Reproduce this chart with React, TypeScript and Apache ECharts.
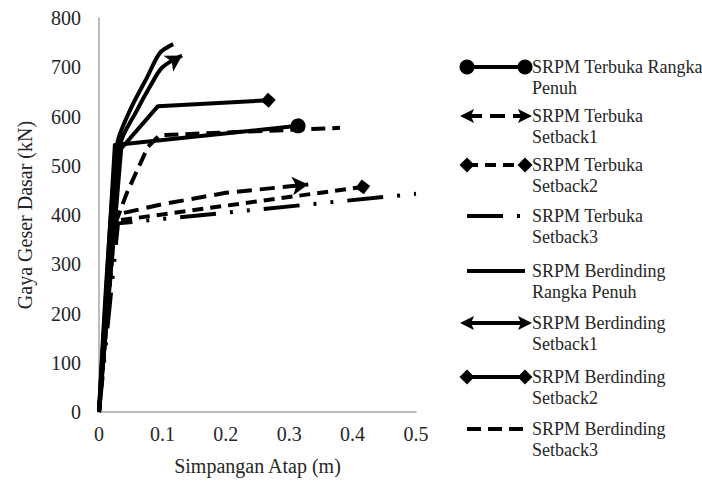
import React, { useEffect, useRef } from "react";
import * as echarts from "echarts";

const seriesNames = [
  "SRPM Terbuka Rangka Penuh",
  "SRPM Terbuka Setback1",
  "SRPM Terbuka Setback2",
  "SRPM Terbuka Setback3",
  "SRPM Berdinding Rangka Penuh",
  "SRPM Berdinding Setback1",
  "SRPM Berdinding Setback2",
  "SRPM Berdinding Setback3",
];

const legendLabels = [
  ["SRPM Terbuka Rangka", "Penuh"],
  ["SRPM Terbuka", "Setback1"],
  ["SRPM Terbuka", "Setback2"],
  ["SRPM Terbuka", "Setback3"],
  ["SRPM Berdinding", "Rangka Penuh"],
  ["SRPM Berdinding", "Setback1"],
  ["SRPM Berdinding", "Setback2"],
  ["SRPM Berdinding", "Setback3"],
];

const xTicks = [0, 0.1, 0.2, 0.3, 0.4, 0.5];
const yTicks = [0, 100, 200, 300, 400, 500, 600, 700, 800];

// [Simpangan Atap (m), Gaya Geser Dasar (kN)]
const terbukaRangkaPenuh = [[0, 0], [0.025, 542], [0.314, 581]];
const terbukaSetback1 = [[0, 0], [0.025, 400], [0.1, 422], [0.2, 445], [0.33, 462]];
const terbukaSetback2 = [[0, 0], [0.025, 388], [0.416, 457]];
const terbukaSetback3 = [[0, 0], [0.03, 383], [0.5, 443]];
const berdindingRangkaPenuh = [[0, 0], [0.028, 540], [0.049, 613], [0.076, 680], [0.096, 729], [0.117, 747]];
const berdindingSetback1 = [[0, 0], [0.033, 540], [0.06, 613], [0.08, 660], [0.1, 700], [0.131, 724]];
const berdindingSetback2 = [[0, 0], [0.035, 535], [0.093, 621], [0.267, 633]];
const berdindingSetback3 = [[0, 0], [0.025, 380], [0.044, 445], [0.077, 538], [0.095, 562], [0.38, 577]];

const seriesData = [
  terbukaRangkaPenuh,
  terbukaSetback1,
  terbukaSetback2,
  terbukaSetback3,
  berdindingRangkaPenuh,
  berdindingSetback1,
  berdindingSetback2,
  berdindingSetback3,
];

type Sty = { dash: number[] | null; start: string | null; end: string | null; smooth: number };
const styles: Sty[] = [
  { dash: null, start: "circle", end: "circle", smooth: 0 },
  { dash: [15, 8], start: "arrow", end: "arrow", smooth: 0 },
  { dash: [11, 7], start: "diamond", end: "diamond", smooth: 0 },
  { dash: [36, 14, 3, 14, 3, 14], start: null, end: null, smooth: 0 },
  { dash: null, start: null, end: null, smooth: 0.3 },
  { dash: null, start: "arrow", end: "arrow", smooth: 0.3 },
  { dash: null, start: "diamond", end: "diamond", smooth: 0 },
  { dash: [14, 7], start: null, end: null, smooth: 0 },
];

const legendRowY = [67, 116, 165, 216, 271, 323, 377, 429];

const FONT = '"Liberation Serif", "Times New Roman", serif';
const TEXT = "#262626";
const LW = 4;

function symSize(s: string) {
  if (s === "circle") return 15;
  if (s === "diamond") return 15;
  return [14, 16];
}

function buildOption(rot: { s: number; e: number }[]) {
  const series = seriesData.map((pts, si) => {
    const st = styles[si];
    const data = pts.map((p, i) => {
      const isEnd = i === pts.length - 1 && st.end;
      if (isEnd) return { value: p, symbol: st.end, symbolSize: symSize(st.end!), symbolRotate: rot[si].e };
      return { value: p, symbol: "none" };
    });
    return {
      name: seriesNames[si],
      type: "line",
      data,
      symbol: "circle",
      showSymbol: true,
      smooth: st.smooth,
      clip: false,
      lineStyle: { color: "#000", width: LW, type: st.dash ? st.dash : "solid", cap: "butt", join: "round" },
      itemStyle: { color: "#000", borderWidth: 0 },
      z: 2 + si,
    };
  });

  // legend drawn as graphic
  const graphic: any[] = [];
  const x0 = 467;
  const x1 = 525;
  legendLabels.forEach((lab, i) => {
    const y = legendRowY[i];
    const st = styles[i];
    graphic.push({
      type: "line",
      shape: { x1: x0, y1: y, x2: x1, y2: y },
      style: { stroke: "#000", lineWidth: LW, lineDash: st.dash || undefined },
    });
    const marker = (kind: string, cx: number, dir: number) => {
      if (kind === "circle") {
        graphic.push({ type: "circle", shape: { cx, cy: y, r: 7.5 }, style: { fill: "#000" } });
      } else if (kind === "diamond") {
        graphic.push({
          type: "polygon",
          shape: { points: [[cx - 7.5, y], [cx, y - 7.5], [cx + 7.5, y], [cx, y + 7.5]] },
          style: { fill: "#000" },
        });
      } else if (kind === "arrow") {
        graphic.push({
          type: "polygon",
          shape: { points: [[cx + dir * 7, y], [cx - dir * 7, y - 7], [cx - dir * 4, y], [cx - dir * 7, y + 7]] },
          style: { fill: "#000" },
        });
      }
    };
    if (st.start) marker(st.start, x0, -1);
    if (st.end) marker(st.end, x1, 1);
    graphic.push({
      type: "text",
      x: 532,
      y: y - 11,
      style: { text: lab.join("\n"), font: `18px ${FONT}`, fill: TEXT, lineHeight: 21, verticalAlign: "top" },
    });
  });

  return {
    animation: false,
    backgroundColor: "#fff",
    grid: { left: 99, top: 18, width: 317, height: 394, containLabel: false },
    xAxis: {
      type: "value",
      min: xTicks[0],
      max: xTicks[xTicks.length - 1],
      interval: 0.1,
      axisLine: { show: true, lineStyle: { color: "#a6a6a6", width: 1.5 } },
      axisTick: { show: false },
      splitLine: { show: false },
      axisLabel: { color: TEXT, fontFamily: FONT, fontSize: 20, margin: 12 },
      name: "Simpangan Atap (m)",
      nameLocation: "middle",
      nameGap: 44,
      nameTextStyle: { color: TEXT, fontFamily: FONT, fontSize: 20 },
    },
    yAxis: {
      type: "value",
      min: yTicks[0],
      max: yTicks[yTicks.length - 1],
      interval: 100,
      axisLine: { show: true, lineStyle: { color: "#a6a6a6", width: 1.5 } },
      axisTick: { show: false },
      splitLine: { show: false },
      axisLabel: { color: TEXT, fontFamily: FONT, fontSize: 20, margin: 18 },
      name: "Gaya Geser Dasar (kN)",
      nameLocation: "middle",
      nameGap: 64,
      nameTextStyle: { color: TEXT, fontFamily: FONT, fontSize: 20 },
    },
    legend: { show: false },
    graphic,
    series,
  };
}

export default function App() {
  const ref = useRef<HTMLDivElement>(null);
  useEffect(() => {
    if (!ref.current) return;
    const chart = echarts.init(ref.current, null, { renderer: "svg" });
    const zero = seriesData.map(() => ({ s: 0, e: 0 }));
    chart.setOption(buildOption(zero));
    const angle = (a: number[], b: number[]) => {
      const pa = chart.convertToPixel({ gridIndex: 0 }, a) as number[];
      const pb = chart.convertToPixel({ gridIndex: 0 }, b) as number[];
      const deg = (Math.atan2(-(pb[1] - pa[1]), pb[0] - pa[0]) * 180) / Math.PI;
      return deg - 90;
    };
    const rot = seriesData.map((pts) => ({
      s: angle(pts[1], pts[0]),
      e: angle(pts[pts.length - 2], pts[pts.length - 1]),
    }));
    chart.setOption(buildOption(rot), true);
    return () => chart.dispose();
  }, []);
  return <div ref={ref} style={{ width: 702, height: 490, position: "absolute", left: 0, top: 0 }} />;
}
